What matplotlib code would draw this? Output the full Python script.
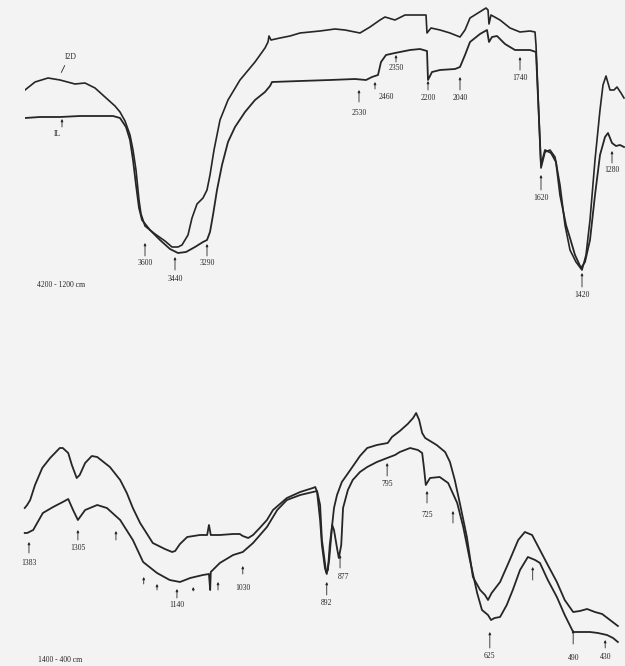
import matplotlib.pyplot as plt

# IR spectra, 4200-1200 cm-1 (top) and 1400-400 cm-1 (bottom), transmittance in arbitrary units
top_i2d_wn = [4200, 4150, 4085, 4025, 3950, 3900, 3850, 3800, 3750, 3725, 3700, 3675, 3660, 3645,
              3630, 3620, 3600, 3550, 3500, 3465, 3435, 3415, 3385, 3365, 3340, 3310, 3290, 3275,
              3255, 3225, 3185, 3125, 3050, 3000, 2985, 2980, 2970, 2925, 2875, 2825, 2725, 2650,
              2600, 2525, 2475, 2425, 2400, 2350, 2300, 2250, 2195, 2190, 2170, 2125, 2075, 2025,
              2000, 1975, 1935, 1895, 1885, 1880, 1870, 1825, 1775, 1725, 1675, 1650, 1645, 1620,
              1600, 1575, 1550, 1525, 1500, 1475, 1445, 1415, 1395, 1375, 1350, 1325, 1310, 1295,
              1275, 1255, 1240, 1220, 1205]
top_i2d_t = [210, 218, 222, 220, 216, 217, 212, 203, 194, 188, 179, 165, 150, 130,
             100, 86, 74, 66, 59, 53, 53, 55, 65, 82, 96, 102, 110, 125,
             150, 180, 200, 220, 238, 252, 258, 264, 260, 262, 264, 267, 269, 271,
             270, 267, 273, 280, 283, 280, 285, 285, 285, 267, 272, 270, 267, 263,
             270, 282, 287, 292, 290, 276, 285, 280, 272, 268, 269, 268, 255, 132,
             148, 150, 143, 115, 75, 50, 38, 30, 45, 80, 140, 190, 215, 224,
             210, 210, 213, 207, 202]

top_il_wn = [4200, 4125, 4025, 3925, 3825, 3760, 3725, 3695, 3675, 3660, 3645, 3630, 3615, 3575,
             3525, 3475, 3435, 3395, 3350, 3310, 3290, 3275, 3260, 3240, 3215, 3185, 3150, 3100,
             3050, 3000, 2975, 2965, 2825, 2675, 2550, 2495, 2465, 2435, 2420, 2395, 2350, 2275,
             2225, 2190, 2185, 2165, 2125, 2050, 2025, 2000, 1975, 1925, 1890, 1880, 1865, 1840,
             1800, 1750, 1675, 1645, 1620, 1600, 1570, 1545, 1525, 1495, 1475, 1450, 1420, 1400,
             1375, 1350, 1325, 1300, 1285, 1265, 1245, 1225, 1205]
top_il_t = [182, 183, 183, 184, 184, 184, 182, 173, 160, 140, 115, 92, 80, 70,
            60, 51, 47, 48, 53, 58, 60, 68, 85, 110, 135, 158, 173, 188,
            200, 208, 214, 218, 219, 220, 221, 220, 223, 225, 238, 245, 247, 250,
            251, 249, 220, 228, 230, 231, 233, 245, 258, 266, 270, 258, 263, 264,
            256, 250, 250, 248, 135, 150, 147, 138, 105, 75, 62, 45, 32, 38,
            60, 105, 145, 163, 167, 157, 154, 155, 153]

bot_upper_wn = [1390, 1386, 1381, 1373, 1361, 1348, 1332, 1327, 1318, 1312, 1304, 1299, 1290, 1279,
                1270, 1249, 1232, 1221, 1211, 1199, 1178, 1158, 1146, 1141, 1133, 1121, 1100, 1088,
                1085, 1082, 1067, 1045, 1034, 1029, 1020, 1012, 1001, 989, 979, 956, 934, 913,
                909, 906, 901, 898, 893, 890, 886, 881, 878, 873, 865, 851, 835, 823,
                807, 789, 782, 769, 756, 747, 742, 737, 732, 727, 708, 694, 686, 678,
                669, 658, 648, 636, 628, 623, 617, 603, 587, 573, 562, 550, 537, 524,
                509, 496, 482, 471, 459, 446, 434, 421, 408]
bot_upper_t = [158, 161, 166, 181, 198, 208, 218, 218, 213, 201, 188, 191, 203, 210,
               209, 199, 186, 173, 158, 143, 123, 117, 114, 115, 122, 129, 131, 131,
               141, 131, 131, 132, 132, 130, 128, 131, 138, 146, 156, 168, 174, 178,
               179, 174, 146, 121, 98, 92, 106, 141, 158, 171, 184, 196, 210, 218,
               221, 223, 229, 235, 242, 248, 253, 246, 233, 228, 221, 214, 204, 186,
               161, 129, 89, 76, 71, 66, 73, 84, 106, 126, 134, 131, 116, 101,
               84, 66, 54, 55, 57, 54, 52, 46, 40]

bot_lower_wn = [1390, 1386, 1376, 1360, 1343, 1327, 1318, 1310, 1302, 1290, 1270, 1254, 1232, 1211,
                1194, 1171, 1150, 1133, 1116, 1095, 1085, 1083, 1082, 1067, 1045, 1029, 1012, 989,
                972, 956, 934, 913, 906, 901, 898, 891, 888, 885, 881, 878, 873, 870,
                866, 863, 855, 847, 835, 823, 807, 790, 777, 769, 752, 739, 732, 729,
                726, 719, 703, 689, 674, 664, 653, 641, 633, 623, 618, 612, 603, 592,
                582, 570, 557, 545, 537, 524, 509, 496, 482, 471, 454, 441, 426, 416, 408]
bot_lower_t = [133, 133, 136, 153, 159, 164, 167, 156, 146, 156, 161, 158, 146, 126,
               104, 93, 86, 84, 88, 91, 92, 76, 94, 103, 111, 114, 123, 139,
               156, 166, 171, 174, 175, 161, 126, 94, 96, 121, 141, 136, 118, 108,
               121, 158, 176, 186, 194, 199, 204, 208, 211, 214, 218, 216, 213, 198,
               181, 188, 189, 183, 163, 139, 106, 73, 56, 51, 46, 48, 49, 61,
               76, 96, 109, 106, 103, 86, 69, 51, 34, 34, 34, 33, 31, 28, 24]

# band markers: label, band wavenumber, arrow base, arrow tip, label x, label y
top_marks = [
    ('3600', 3600, 44, 57, 3600, 37),
    ('3440', 3450, 30, 43, 3450, 21),
    ('3290', 3290, 44, 56, 3290, 37),
    ('2530', 2530, 198, 210, 2530, 187),
    ('2350', 2345, 238, 245, 2345, 232),
    ('2200', 2185, 210, 219, 2185, 202),
    ('2040', 2025, 210, 223, 2025, 202),
    ('1740', 1725, 230, 243, 1725, 222),
    ('1620', 1620, 110, 125, 1620, 102),
    ('1420', 1415, 13, 27, 1415, 5),
    ('1280', 1265, 137, 149, 1265, 130),
    ('IL', 4015, 173, 181, 4040, 166),
]
bot_marks = [
    ('1383', 1383, 113, 124, 1383, 103),
    ('1305', 1302, 126, 136, 1302, 118),
    ('', 1239, 126, 135, 0, 0),
    ('', 1193, 82, 89, 0, 0),
    ('', 1171, 76, 82, 0, 0),
    ('1140', 1138, 68, 77, 1138, 61),
    ('', 1111, 75, 79, 0, 0),
    ('', 1070, 76, 84, 0, 0),
    ('1030', 1029, 92, 100, 1029, 78),
    ('892', 890, 71, 84, 890, 63),
    ('877', 868, 98, 111, 862, 89),
    ('795', 790, 190, 203, 790, 182),
    ('725', 724, 163, 175, 724, 151),
    ('', 681, 143, 155, 0, 0),
    ('625', 620, 18, 34, 620, 10),
    ('', 549, 86, 99, 0, 0),
    ('490', 482, 22, 36, 482, 8),
    ('430', 429, 18, 26, 429, 9),
]

bg = '#f3f3f3'
ink = '#262626'
fnt = dict(family='Liberation Serif', fontsize=5.5, color=ink, ha='center', va='center')
arw = dict(arrowstyle='-|>', lw=0.6, color=ink, mutation_scale=3.5, shrinkA=0, shrinkB=0)

fig = plt.figure(figsize=(6.25, 6.66), dpi=100, facecolor=bg)
ax1 = fig.add_axes([0.04, 1 - 300 / 666, 0.96, 300 / 666])
ax2 = fig.add_axes([18.7 / 625, 0, 604 / 625, 326 / 666])

ax1.plot(top_i2d_wn, top_i2d_t, color=ink, lw=1.2)
ax1.plot(top_il_wn, top_il_t, color=ink, lw=1.3)
ax1.set_xlim(4200, 1200)
ax1.set_ylim(0, 300)

ax2.plot(bot_upper_wn, bot_upper_t, color=ink, lw=1.3)
ax2.plot(bot_lower_wn, bot_lower_t, color=ink, lw=1.3)
ax2.set_xlim(1400, 400)
ax2.set_ylim(0, 326)

for ax, marks in [(ax1, top_marks), (ax2, bot_marks)]:
    ax.axis('off')
    for lab, wn, base, tip, tx, ty in marks:
        ax.annotate('', xy=(wn, tip), xytext=(wn, base), arrowprops=arw)
        if lab:
            ax.text(tx, ty, lab, **fnt)

# extra labels that don't sit under their arrow
ax1.annotate('', xy=(2450, 218), xytext=(2450, 211), arrowprops=arw)
ax1.text(2432, 203, '2460', **{**fnt, 'ha': 'left'})
ax1.annotate('', xy=(4025, 225), xytext=(3995, 237),
             arrowprops=dict(arrowstyle='-', lw=0.6, color=ink))
ax1.text(3970, 243, 'I2D', **fnt)
ax1.text(4140, 15, '4200 - 1200 cm', **{**fnt, 'ha': 'left'})
ax2.text(1368, 6, '1400 - 400 cm', **{**fnt, 'ha': 'left'})

plt.savefig('out.png', dpi=100, facecolor=bg)
